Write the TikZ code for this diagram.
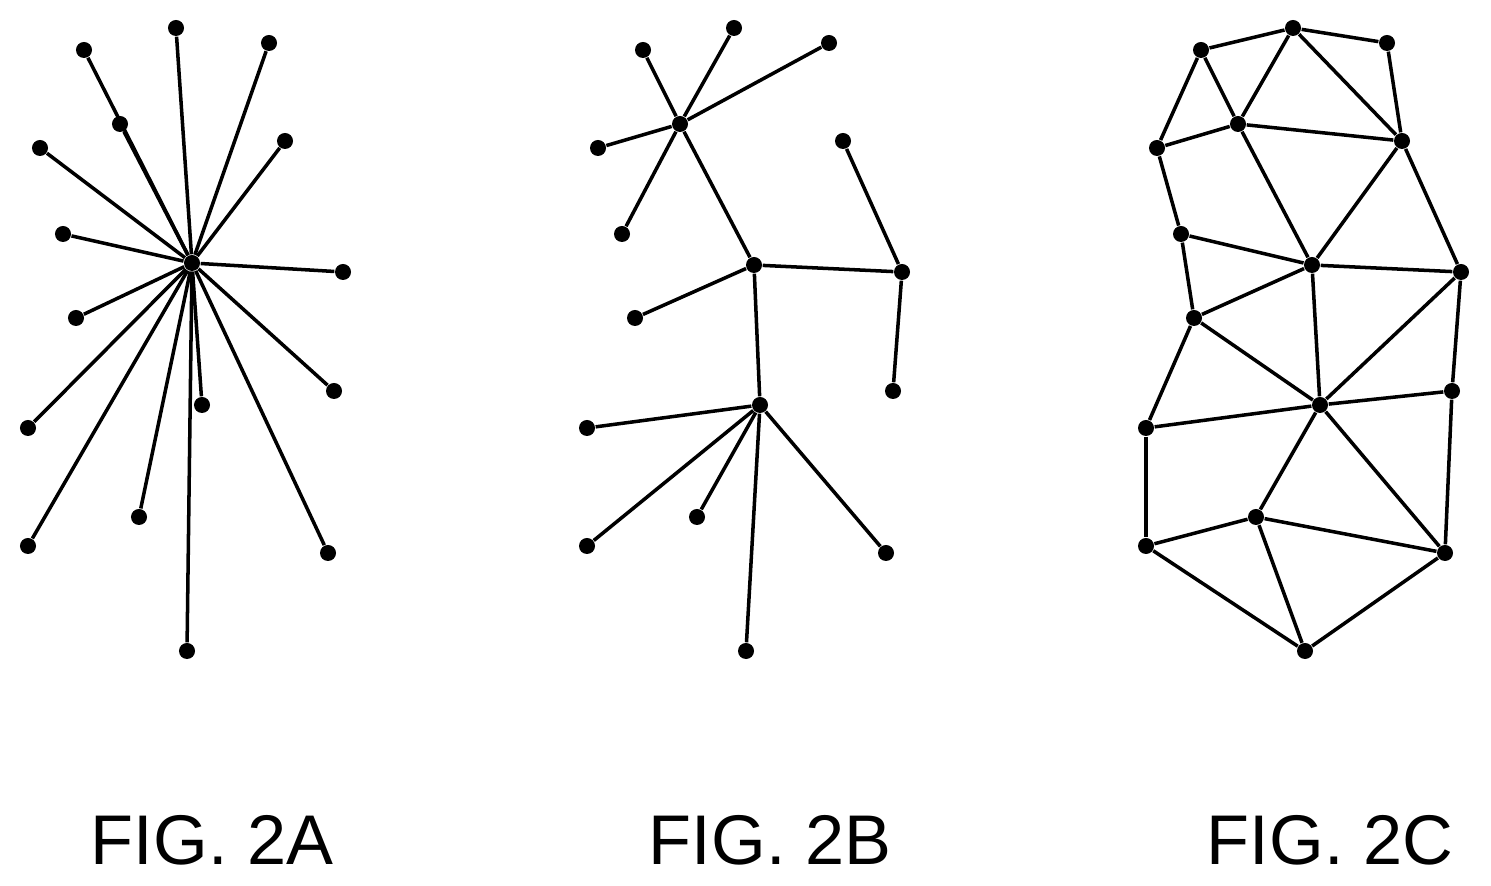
\documentclass[tikz,border=0pt]{standalone}
\usepackage{fontspec}
\setmainfont{Liberation Sans}
\begin{document}
\begin{tikzpicture}[x=0.01cm,y=-0.01cm,
  v/.style={circle,fill=black,inner sep=0pt,minimum size=0.16cm},
  e/.style={line width=1pt},
  lab/.style={font=\fontsize{20}{24}\selectfont}]
\useasboundingbox (0,0) rectangle (1491,886);
% Fig 2A
\node[v] (A0) at (192,263) {};
\foreach \n/\x/\y in {1/84/50,2/176/28,3/269/43,4/120/124,5/40/148,6/285/141,7/63/234,8/343/272,9/76/318,10/334/391,11/202/405,12/28/428,13/139/517,14/28/546,15/328/553,16/187/651}{
  \node[v] (A\n) at (\x,\y) {};
  \draw[e] (A0) -- (A\n);
}
% Fig 2B
\foreach \n/\x/\y in {h1/680/124,a/643/50,b/734/28,c/829/43,d/598/148,f/622/234,h2/754/265,g/843/141,i/902/272,j/635/318,k/893/391,h3/760/405,m/587/428,o/587/546,n/697/517,p/886/553,q/746/651}{
  \node[v] (B\n) at (\x,\y) {};
}
\foreach \s/\t in {h1/a,h1/b,h1/c,h1/d,h1/f,h1/h2,g/i,h2/i,h2/j,h2/h3,i/k,h3/m,h3/o,h3/n,h3/p,h3/q}{
  \draw[e] (B\s) -- (B\t);
}
% Fig 2C
\foreach \n/\x/\y in {a/1201/50,b/1293/28,c/1387/43,d/1238/124,e/1157/148,f/1402/141,g/1181/234,h/1312/265,i/1461/272,j/1194/318,k/1452/391,l/1320/405,m/1146/428,n/1256/517,o/1146/546,p/1445/553,q/1305/651}{
  \node[v] (C\n) at (\x,\y) {};
}
\foreach \s/\t in {a/b,b/c,c/f,a/e,a/d,b/d,b/f,d/e,d/f,d/h,f/h,f/i,e/g,g/h,g/j,h/i,j/h,j/l,j/m,h/l,i/l,i/k,l/k,m/l,m/o,l/n,l/p,k/p,n/o,n/p,n/q,o/q,p/q}{
  \draw[e] (C\s) -- (C\t);
}
\node[lab] (L1) at (212,840) {FIG. 2A};
\node[lab] (L2) at (770,840) {FIG. 2B};
\node[lab] (L3) at (1330,840) {FIG. 2C};
\end{tikzpicture}
\end{document}
